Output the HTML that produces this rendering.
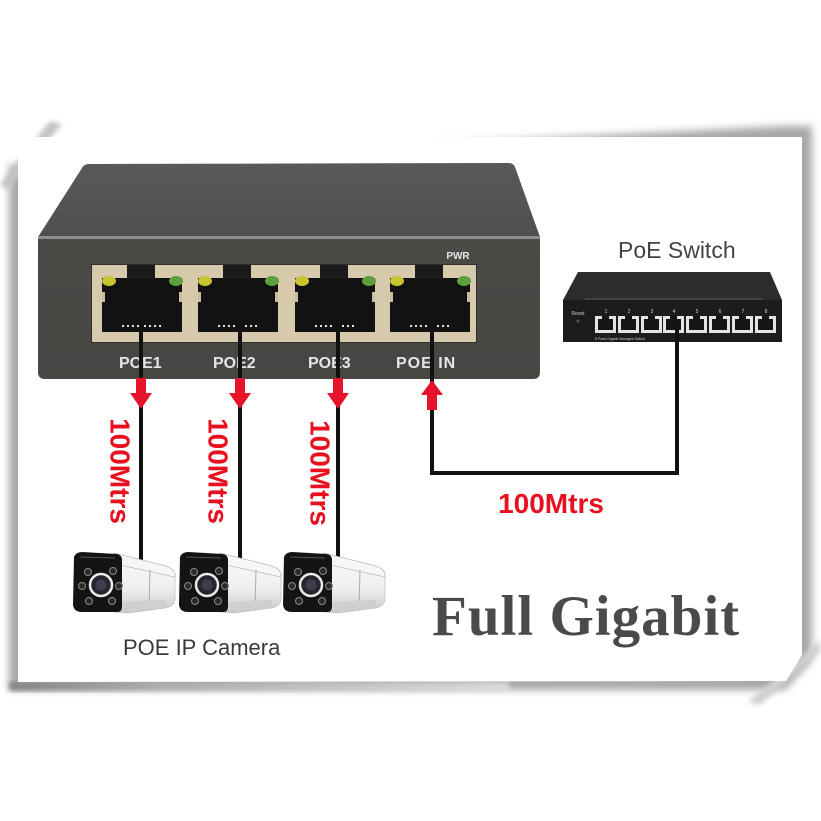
<!DOCTYPE html>
<html><head><meta charset="utf-8"><style>
html,body{margin:0;padding:0;background:#fff;}
svg{display:block}
</style></head><body>
<svg width="821" height="821" viewBox="0 0 821 821" xmlns="http://www.w3.org/2000/svg">
<defs>
<filter id="b4" x="-10%" y="-10%" width="120%" height="120%"><feGaussianBlur stdDeviation="4"/></filter>
<filter id="b2" x="-20%" y="-20%" width="140%" height="140%"><feGaussianBlur stdDeviation="2.5"/></filter>
<linearGradient id="top" x1="0" y1="0" x2="0" y2="1"><stop offset="0" stop-color="#575a59"/><stop offset="1" stop-color="#4d504f"/></linearGradient>
<linearGradient id="front" x1="0" y1="0" x2="0" y2="1"><stop offset="0" stop-color="#4b4a47"/><stop offset="1" stop-color="#474643"/></linearGradient>
<linearGradient id="cbody" x1="0" y1="0" x2="0" y2="1"><stop offset="0" stop-color="#fbfbfb"/><stop offset="0.6" stop-color="#eeeeee"/><stop offset="1" stop-color="#c9c9c9"/></linearGradient>
<linearGradient id="bshadow" x1="0" y1="0" x2="1" y2="0"><stop offset="0" stop-color="#777"/><stop offset="0.3" stop-color="#aaa"/><stop offset="1" stop-color="#e4e4e4"/></linearGradient>
<g id="cam">
  <path d="M44 3 L92 15 Q104 18 105 24 L105 50 Q104 56 96 58 L58 63 L44 62 Z" fill="url(#cbody)" stroke="#b5b5b5" stroke-width="0.6"/>
  <path d="M44 3 L92 15 Q104 18 105 24 L105 27 L50 15 Z" fill="#f6f6f6" stroke="#a8a8a8" stroke-width="0.6"/>
  <path d="M80 20 L79 60" stroke="#a9a9a9" stroke-width="1" fill="none"/>
  <path d="M52 52 L96 50 L96 57 L58 62 Z" fill="#cfcfcf"/>
  <path d="M4 7 Q6 2 12 2 L47 4 Q52 5 52 10 L52 57 Q52 62 47 62 L12 62 Q4 62 3 55 Z" fill="#141414"/>
  <path d="M10 7 L45 8" stroke="#555" stroke-width="1"/>
  <circle cx="31" cy="35" r="11" fill="#262630" stroke="#ececec" stroke-width="2.5"/>
  <circle cx="31" cy="35" r="5.5" fill="#3e3e50"/>
  <circle cx="18" cy="22" r="3.5" fill="#2a2a2a" stroke="#8a8a8a"/>
  <circle cx="43" cy="21" r="3.5" fill="#2a2a2a" stroke="#8a8a8a"/>
  <circle cx="12" cy="36" r="3.5" fill="#2a2a2a" stroke="#8a8a8a"/>
  <circle cx="49" cy="36" r="3.5" fill="#2a2a2a" stroke="#8a8a8a"/>
  <circle cx="19" cy="51" r="3.5" fill="#2a2a2a" stroke="#8a8a8a"/>
  <circle cx="42" cy="51" r="3.5" fill="#2a2a2a" stroke="#8a8a8a"/>
</g>
<g id="port">
  <rect x="0" y="278" width="80" height="54" fill="#121212"/>
  <rect x="0" y="292" width="3" height="10" fill="#cbbd9f"/>
  <rect x="77" y="292" width="3" height="10" fill="#cbbd9f"/>
  <rect x="25" y="265" width="28" height="14" fill="#1b1b1b"/>
  <ellipse cx="7" cy="281" rx="7" ry="5" fill="#c9c232"/>
  <ellipse cx="74" cy="281" rx="7" ry="5" fill="#5d9f3c"/>
  <g fill="#e6e6e6">
    <rect x="20" y="325" width="2" height="2"/><rect x="25" y="325" width="2" height="2"/><rect x="30" y="325" width="2" height="2"/><rect x="35" y="325" width="2" height="2"/>
    <rect x="42" y="325" width="2" height="2"/><rect x="47" y="325" width="2" height="2"/><rect x="52" y="325" width="2" height="2"/><rect x="57" y="325" width="2" height="2"/>
  </g>
</g>
<g id="sport">
  <rect x="0" y="316" width="21" height="17" fill="#e4e4e4"/>
  <rect x="3" y="319" width="15" height="11" fill="#151515"/>
  <rect x="7" y="316" width="7" height="4" fill="#151515"/>
</g>
</defs>
<rect width="821" height="821" fill="#fff"/>

<!-- frame shadows -->
<path d="M9 165 L9 690 L785 690 L812 660 L812 126 L785 126 Z" fill="#8a8a8a" filter="url(#b4)" opacity="0.75"/>
<rect x="9" y="682" width="500" height="9" fill="url(#bshadow)" filter="url(#b2)" opacity="0.8"/>
<path d="M0 184 L50 121 L62 124 L8 190 Z" fill="#c4c4c4" filter="url(#b2)"/>
<path d="M748 702 L820 640 L820 652 L760 705 Z" fill="#d0d0d0" filter="url(#b2)"/>
<!-- frame -->
<path d="M33 137 L802 137 L802 655 L786 681 L18 682 L18 152 Z" fill="#fff"/>

<!-- POE extender box -->
<path d="M82 168 Q84 164 89 164 L509 163 Q513 163 515 167 L540 237 L38 237 Z" fill="url(#top)"/>
<path d="M38 237 L540 237 L540 372 Q540 379 533 379 L45 379 Q38 379 38 372 Z" fill="url(#front)"/>
<rect x="38" y="236" width="502" height="3" fill="#8e8e8b"/>
<rect x="91" y="264" width="386" height="79" fill="#2e2d2b"/>
<rect x="92" y="265" width="384" height="77" fill="#d7c9ac"/>
<use href="#port" x="102"/>
<use href="#port" x="198"/>
<use href="#port" x="295"/>
<use href="#port" x="390"/>
<text x="458" y="259" font-family="Liberation Sans, Arial, sans-serif" font-weight="bold" font-size="10" fill="#e8e8e8" text-anchor="middle">PWR</text>
<g font-family="Liberation Sans, Arial, sans-serif" font-weight="bold" font-size="16" fill="#e6e6e6">
  <text x="119" y="368">POE1</text>
  <text x="213" y="368">POE2</text>
  <text x="308" y="368">POE3</text>
  <text x="396" y="368" letter-spacing="1">POE IN</text>
</g>

<!-- PoE Switch -->
<text x="618" y="258" font-family="Liberation Sans, Arial, sans-serif" font-size="23" fill="#444">PoE Switch</text>
<path d="M578 272 L770 272 L782 300 L563 300 Z" fill="#2c2c2c"/>
<rect x="585" y="298" width="178" height="6" fill="#444"/>
<rect x="563" y="300" width="219" height="42" fill="#1c1c1c"/>
<use href="#sport" x="595"/><use href="#sport" x="618"/><use href="#sport" x="641"/><use href="#sport" x="663"/>
<use href="#sport" x="686"/><use href="#sport" x="709"/><use href="#sport" x="732"/><use href="#sport" x="755"/>
<g font-family="Liberation Sans, Arial, sans-serif" font-size="5" fill="#ccc" text-anchor="middle">
  <text x="606" y="313">1</text><text x="629" y="313">2</text><text x="652" y="313">3</text><text x="674" y="313">4</text>
  <text x="697" y="313">5</text><text x="720" y="313">6</text><text x="743" y="313">7</text><text x="766" y="313">8</text>
  <text x="578" y="315">Reset</text>
  <text x="620" y="340" font-size="3.5">8 Ports Gigabit Managed Switch</text>
</g>
<circle cx="578" cy="321" r="1.5" fill="#555"/>

<!-- cables -->
<g stroke="#111" stroke-width="4" fill="none">
  <line x1="141" y1="322" x2="141" y2="565"/>
  <line x1="240" y1="322" x2="240" y2="565"/>
  <line x1="338" y1="322" x2="338" y2="565"/>
  <polyline points="432,322 432,473 677,473 677,326"/>
</g>

<!-- arrows -->
<g fill="#e5142b">
  <rect x="136" y="378" width="10" height="17"/><polygon points="130,393 152,393 141,409"/>
  <rect x="235" y="378" width="10" height="17"/><polygon points="229,393 251,393 240,409"/>
  <rect x="333" y="378" width="10" height="17"/><polygon points="327,393 349,393 338,409"/>
  <polygon points="421,395 443,395 432,380"/><rect x="427" y="393" width="10" height="17"/>
</g>

<g font-family="Liberation Sans, Arial, sans-serif" font-weight="bold" font-size="28" fill="#e8101e" text-anchor="middle" dominant-baseline="central">
  <text transform="translate(120 471) rotate(90)">100Mtrs</text>
  <text transform="translate(218 471) rotate(90)">100Mtrs</text>
  <text transform="translate(320 473) rotate(90)">100Mtrs</text>
</g>
<text x="551" y="513" font-family="Liberation Sans, Arial, sans-serif" font-weight="bold" font-size="28" fill="#e8101e" text-anchor="middle">100Mtrs</text>

<!-- cameras -->
<use href="#cam" x="70" y="550"/>
<use href="#cam" x="176" y="550"/>
<use href="#cam" x="280" y="550"/>

<text x="123" y="655" font-family="Liberation Sans, Arial, sans-serif" font-size="22" fill="#3a3a3a">POE IP Camera</text>
<text x="432" y="635" font-family="Liberation Serif, 'Times New Roman', serif" font-weight="bold" font-size="57" letter-spacing="1" fill="#4a4a4a">Full Gigabit</text>
</svg>
</body></html>
